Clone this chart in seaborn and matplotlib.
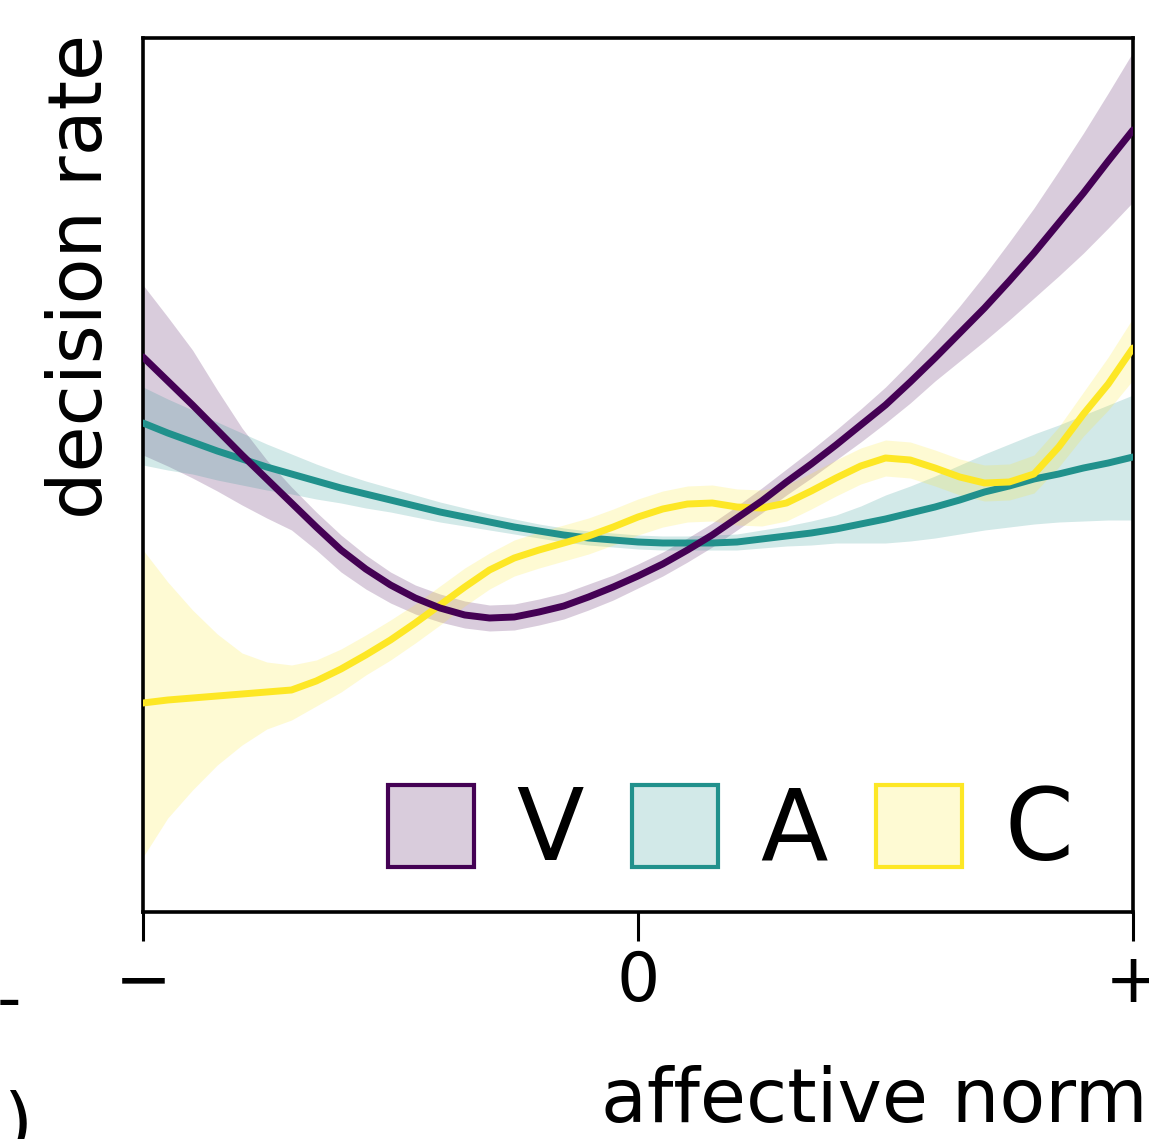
import numpy as np
import pandas as pd
import matplotlib
matplotlib.use("Agg")
import matplotlib.pyplot as plt
from matplotlib.patches import Patch
import seaborn as sns

# ---------------- data (decision rate, %) ----------------
norm = [-1.00, -0.95, -0.90, -0.85, -0.80, -0.75, -0.70, -0.65, -0.60, -0.55,
        -0.50, -0.45, -0.40, -0.35, -0.30, -0.25, -0.20, -0.15, -0.10, -0.05,
        0.00, 0.05, 0.10, 0.15, 0.20, 0.25, 0.30, 0.35, 0.40, 0.45,
        0.50, 0.55, 0.60, 0.65, 0.70, 0.75, 0.80, 0.85, 0.90, 0.95, 1.00]

V_mean = [55.5, 53.1, 50.7, 48.2, 45.7, 43.3, 40.9, 38.5, 36.2, 34.3,
          32.7, 31.4, 30.4, 29.7, 29.4, 29.5, 30.0, 30.6, 31.5, 32.5,
          33.6, 34.8, 36.2, 37.7, 39.4, 41.1, 43.0, 44.8, 46.7, 48.7,
          50.7, 53.0, 55.4, 57.9, 60.4, 63.1, 65.9, 68.9, 71.9, 75.1, 78.2]
V_hi = [62.7, 59.5, 56.2, 52.2, 48.4, 45.2, 42.5, 40.0, 37.7, 35.7,
        34.0, 32.7, 31.8, 31.1, 30.7, 30.8, 31.3, 31.9, 32.8, 33.7,
        34.8, 36.0, 37.4, 38.9, 40.6, 42.4, 44.3, 46.2, 48.2, 50.3,
        52.5, 55.0, 57.7, 60.6, 63.7, 67.0, 70.4, 74.1, 77.9, 81.9, 86.0]
V_lo = [45.7, 44.6, 43.4, 42.1, 40.7, 39.4, 38.2, 36.2, 34.0, 32.3,
        30.9, 29.8, 29.0, 28.4, 28.1, 28.2, 28.7, 29.3, 30.2, 31.2,
        32.4, 33.6, 35.0, 36.5, 38.2, 39.9, 41.7, 43.4, 45.2, 47.0,
        48.9, 50.9, 53.1, 55.1, 57.1, 59.2, 61.4, 63.6, 65.9, 68.4, 71.0]

A_mean = [48.9, 47.9, 47.0, 46.1, 45.3, 44.5, 43.8, 43.1, 42.4, 41.8,
          41.2, 40.6, 40.0, 39.5, 39.0, 38.5, 38.1, 37.7, 37.4, 37.2,
          37.0, 36.9, 36.9, 36.9, 37.0, 37.3, 37.6, 37.9, 38.3, 38.8,
          39.3, 39.9, 40.5, 41.2, 42.0, 42.6, 43.3, 43.8, 44.4, 44.9, 45.5]
A_hi = [52.5, 51.3, 50.2, 49.0, 47.9, 46.8, 45.8, 44.8, 43.9, 43.1,
        42.4, 41.7, 41.0, 40.4, 39.8, 39.3, 38.8, 38.4, 38.1, 37.9,
        37.7, 37.6, 37.6, 37.7, 37.8, 38.2, 38.6, 39.1, 39.7, 40.6,
        41.7, 42.6, 43.6, 44.7, 45.8, 46.8, 47.8, 48.7, 49.7, 50.7, 51.7]
A_lo = [44.7, 44.2, 43.8, 43.2, 42.7, 42.2, 41.8, 41.3, 40.9, 40.4,
        40.0, 39.5, 39.0, 38.6, 38.2, 37.8, 37.4, 37.0, 36.7, 36.5,
        36.3, 36.2, 36.2, 36.2, 36.2, 36.4, 36.6, 36.7, 36.9, 36.9,
        36.9, 37.1, 37.4, 37.8, 38.2, 38.5, 38.8, 39.0, 39.1, 39.2, 39.2]

C_mean = [20.9, 21.2, 21.4, 21.6, 21.8, 22.0, 22.2, 23.1, 24.3, 25.7,
          27.2, 28.9, 30.7, 32.5, 34.2, 35.4, 36.2, 36.9, 37.6, 38.5,
          39.5, 40.3, 40.8, 40.9, 40.5, 40.4, 40.9, 42.1, 43.4, 44.6,
          45.4, 45.2, 44.4, 43.5, 42.9, 43.0, 43.8, 46.5, 49.8, 52.8, 56.4]
C_hi = [36.2, 33.0, 30.2, 27.8, 25.9, 25.0, 24.7, 25.2, 26.3, 27.7,
        29.2, 30.8, 32.6, 34.4, 35.9, 37.2, 38.0, 38.7, 39.4, 40.3,
        41.3, 42.1, 42.6, 42.7, 42.3, 42.2, 42.7, 43.9, 45.2, 46.4,
        47.2, 47.0, 46.2, 45.3, 44.7, 44.8, 45.7, 48.5, 52.0, 55.5, 59.4]
C_lo = [5.5, 9.4, 12.2, 14.7, 16.7, 18.3, 19.2, 20.6, 22.0, 23.7,
        25.2, 26.9, 28.7, 30.6, 32.3, 33.6, 34.4, 35.1, 35.8, 36.7,
        37.7, 38.5, 39.0, 39.1, 38.7, 38.6, 39.1, 40.3, 41.6, 42.8,
        43.6, 43.4, 42.6, 41.7, 41.1, 41.2, 41.9, 44.5, 47.6, 50.2, 53.2]

groups = ["V", "A", "C"]
colors = {"V": "#440154", "A": "#21918c", "C": "#fde725"}
tick_pos = [-1, 0, 1]
tick_labels = ["\u2212", "0", "+"]

means = {"V": V_mean, "A": A_mean, "C": C_mean}
his = {"V": V_hi, "A": A_hi, "C": C_hi}
los = {"V": V_lo, "A": A_lo, "C": C_lo}

df = pd.concat([pd.DataFrame({"norm": norm, "rate": means[g], "group": g}) for g in groups],
               ignore_index=True)

# ---------------- figure ----------------
sns.set_theme(style="white")
plt.rcParams["font.family"] = ["DejaVu Sans"]
plt.rcParams["text.color"] = "black"
plt.rcParams["axes.labelcolor"] = "black"
plt.rcParams["xtick.color"] = "black"
plt.rcParams["ytick.color"] = "black"

fig = plt.figure(figsize=(11.49, 11.39), dpi=100)
ax = fig.add_axes([143 / 1149, 1 - 912 / 1139, 990 / 1149, 874 / 1139])

for g in groups:
    ax.fill_between(norm, los[g], his[g], color=colors[g], alpha=0.2, linewidth=0, zorder=1)

draw_order = ["A", "C", "V"]
for g in draw_order:
    sns.lineplot(data=df[df["group"] == g], x="norm", y="rate", color=colors[g],
                 linewidth=5, ax=ax, zorder=3, legend=False)

ax.set_xlim(-1, 1)
ax.set_ylim(0, 87.4)
ax.set_xticks(tick_pos)
ax.set_xticklabels(tick_labels, fontsize=49, color="black")
ax.set_yticks([])
ax.tick_params(axis="x", direction="out", length=21, width=2.2, color="black", pad=6,
               bottom=True)

for sp in ax.spines.values():
    sp.set_visible(True)
    sp.set_color("black")
    sp.set_linewidth(2.6)

ax.set_xlabel("affective norm", fontsize=54, loc="right", color="black")
ax.xaxis.set_label_coords(1.015, -0.175)
ax.set_ylabel("decision rate", fontsize=54, loc="top", color="black")
ax.yaxis.set_label_coords(-0.025, 1.005)

handles = [Patch(facecolor=matplotlib.colors.to_rgba(colors[g], 0.2),
                 edgecolor=colors[g], linewidth=3) for g in groups]
leg = ax.legend(handles, groups, ncol=3, loc="lower right", bbox_to_anchor=(0.94, 0.035),
                frameon=False, fontsize=71, handlelength=0.88, handleheight=0.9,
                handletextpad=0.43, columnspacing=0.48, borderpad=0, borderaxespad=0)
for t in leg.get_texts():
    t.set_color("black")

# fragments of neighbouring panels at the left edge
fig.text(21 / 1149, 1 - 1002 / 1139, "-", fontsize=49, ha="right", va="center", color="black")
fig.text(3 / 1149, 1 - 1090 / 1139, ")", fontsize=54, ha="left", va="top", color="black")

fig.savefig("out.png", dpi=100)
